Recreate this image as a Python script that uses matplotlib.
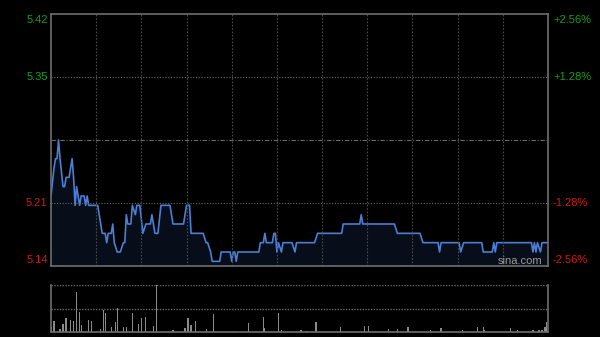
import matplotlib
matplotlib.use("Agg")
import matplotlib.pyplot as plt

plt.rcParams['font.family'] = ['Liberation Sans', 'DejaVu Sans']

# ---- data (minutes from open, 0..330) ----
prev_close = 5.28
price_min = [0, 2, 3, 4, 5, 6, 8, 9, 10, 12, 14, 15, 16, 17, 19, 20, 22, 23, 24, 25,
             31, 34, 36, 37, 38, 40, 41, 42, 44, 46, 48, 49, 50, 51, 53, 54, 56, 57, 59,
             61, 63, 66, 67, 69, 71, 73, 79, 81, 88, 89, 90, 92, 93, 101, 103, 104, 106,
             107, 112, 113, 119, 120, 121, 122, 123, 124, 138, 139, 141, 142, 143, 147,
             148, 149, 150, 151, 153, 154, 160, 162, 163, 175, 177, 193, 194, 205, 206,
             207, 228, 230, 245, 247, 257, 258, 259, 271, 272, 274, 286, 287, 293, 294,
             295, 296, 319, 320, 321, 322, 323, 325, 326, 330]
price_val = [5.22, 5.25, 5.26, 5.26, 5.28, 5.26, 5.23, 5.23, 5.24, 5.24, 5.26, 5.24, 5.21,
             5.23, 5.21, 5.22, 5.22, 5.21, 5.22, 5.21,
             5.21, 5.18, 5.18, 5.17, 5.18, 5.18, 5.19, 5.17, 5.16, 5.16, 5.17, 5.17, 5.20,
             5.19, 5.19, 5.21, 5.20, 5.21, 5.21,
             5.18, 5.19, 5.19, 5.20, 5.18, 5.18, 5.21, 5.21, 5.19, 5.19, 5.20, 5.21, 5.21,
             5.18, 5.18, 5.17, 5.17, 5.16,
             5.15, 5.15, 5.16, 5.16, 5.15, 5.16, 5.16, 5.15, 5.16, 5.16, 5.17, 5.17, 5.18,
             5.17, 5.17,
             5.18, 5.18, 5.16, 5.17, 5.16, 5.17, 5.17, 5.16, 5.17, 5.17, 5.18, 5.18, 5.19,
             5.19, 5.20,
             5.19, 5.19, 5.18, 5.18, 5.17, 5.17, 5.16, 5.17, 5.17, 5.16, 5.17, 5.17, 5.16,
             5.16, 5.17,
             5.16, 5.17, 5.17, 5.16, 5.17, 5.16, 5.17, 5.16, 5.17, 5.17]

vol_min = [0, 2, 6, 8, 10, 13, 15, 17, 19, 20, 25, 27, 33, 35, 36, 40, 43, 44, 48, 50,
           54, 58, 60, 63, 68, 70, 81, 89, 91, 93, 96, 103, 108, 121, 131, 141, 142, 151,
           153, 166, 170, 176, 192, 208, 211, 224, 230, 237, 252, 259, 273, 283, 287, 288,
           305, 310, 320, 324, 326, 328, 329]
vol_val = [4.7, 11, 3, 8, 13.7, 12, 11, 39.7, 20, 7, 12, 11, 3.3, 22, 19, 5.3, 10.3, 23.7,
           4.7, 4.7, 18.7, 8, 13.7, 14.7, 6, 60, 2, 4.3, 13.7, 7, 11, 2.7, 17.7, 1.3, 9.3,
           14.7, 4, 18.7, 2, 2, 1.5, 10, 5.3, 6.3, 6.3, 2.7, 3.3, 4.7, 2, 3.7, 2, 5.3, 5.3,
           2, 3.7, 2, 2, 2, 2.5, 5.3, 10.3]

left_labels = ['5.42', '5.35', '5.21', '5.14']
right_labels = ['+2.56%', '+1.28%', '-1.28%', '-2.56%']
label_prices = [5.415, 5.3476, 5.2124, 5.145]
label_colors = ['#17a017', '#17a017', '#d01818', '#d01818']

W, H = 600, 337
fig = plt.figure(figsize=(6, 3.37), dpi=100, facecolor='black')

# ---- main price panel ----
ax = fig.add_axes([51 / W, 1 - 266 / H, 497 / W, 252 / H], facecolor='black')
ymin, ymax = 5.145, 5.415
ax.set_xlim(0, 330)
ax.set_ylim(ymin, ymax)
ax.fill_between(price_min, price_val, ymin, color='#122038', alpha=0.45, lw=0)
ax.plot(price_min, price_val, color='#4a7fd4', lw=1.2, solid_joinstyle='round')

for m in range(30, 330, 30):
    ax.axvline(m, color='#4a4a4a', lw=0.8, ls=(0, (1.5, 1.5)))
for p in [5.3476, 5.2124]:
    ax.axhline(p, color='#6a6a6a', lw=0.8, ls=(0, (1, 1.5)))
ax.axhline(prev_close, color='#6a6a6a', lw=0.8, ls=(0, (4, 1.5, 1, 1.5)))

for s in ax.spines.values():
    s.set_color('#6e6e6e')
    s.set_linewidth(1.2)
ax.set_xticks([])
ax.set_yticks([])

for lab, rlab, p, c in zip(left_labels, right_labels, label_prices, label_colors):
    dy = 0
    if p == ymax:
        dy = -0.006
    elif p == ymin:
        dy = 0.006
    ax.text(-2.2, p + dy, lab, color=c, fontsize=8, ha='right', va='center',
            clip_on=False)
    ax.text(3.3 + 330, p + dy, rlab, color=c, fontsize=8, ha='left', va='center',
            clip_on=False)

ax.text(326, 5.1505, 'sina.com', color='#9a9a9a', fontsize=8, ha='right', va='center')

# ---- volume panel ----
axv = fig.add_axes([51 / W, 1 - 332 / H, 497 / W, 47 / H], facecolor='black')
axv.set_xlim(0, 330)
axv.set_ylim(0, 47)
axv.bar(vol_min, vol_val, width=0.8, color='#8a8a8a', lw=0)
axv.axhline(47, color='#6a6a6a', lw=1.0, ls=(0, (1, 1)))
axv.axhline(23.5, color='#6a6a6a', lw=1.0, ls=(0, (1, 1)))
axv.spines['top'].set_visible(False)
for k in ['left', 'right', 'bottom']:
    axv.spines[k].set_color('#6e6e6e')
    axv.spines[k].set_linewidth(1.2)
axv.set_xticks([])
axv.set_yticks([])

fig.savefig('out.png', dpi=100, facecolor='black')
